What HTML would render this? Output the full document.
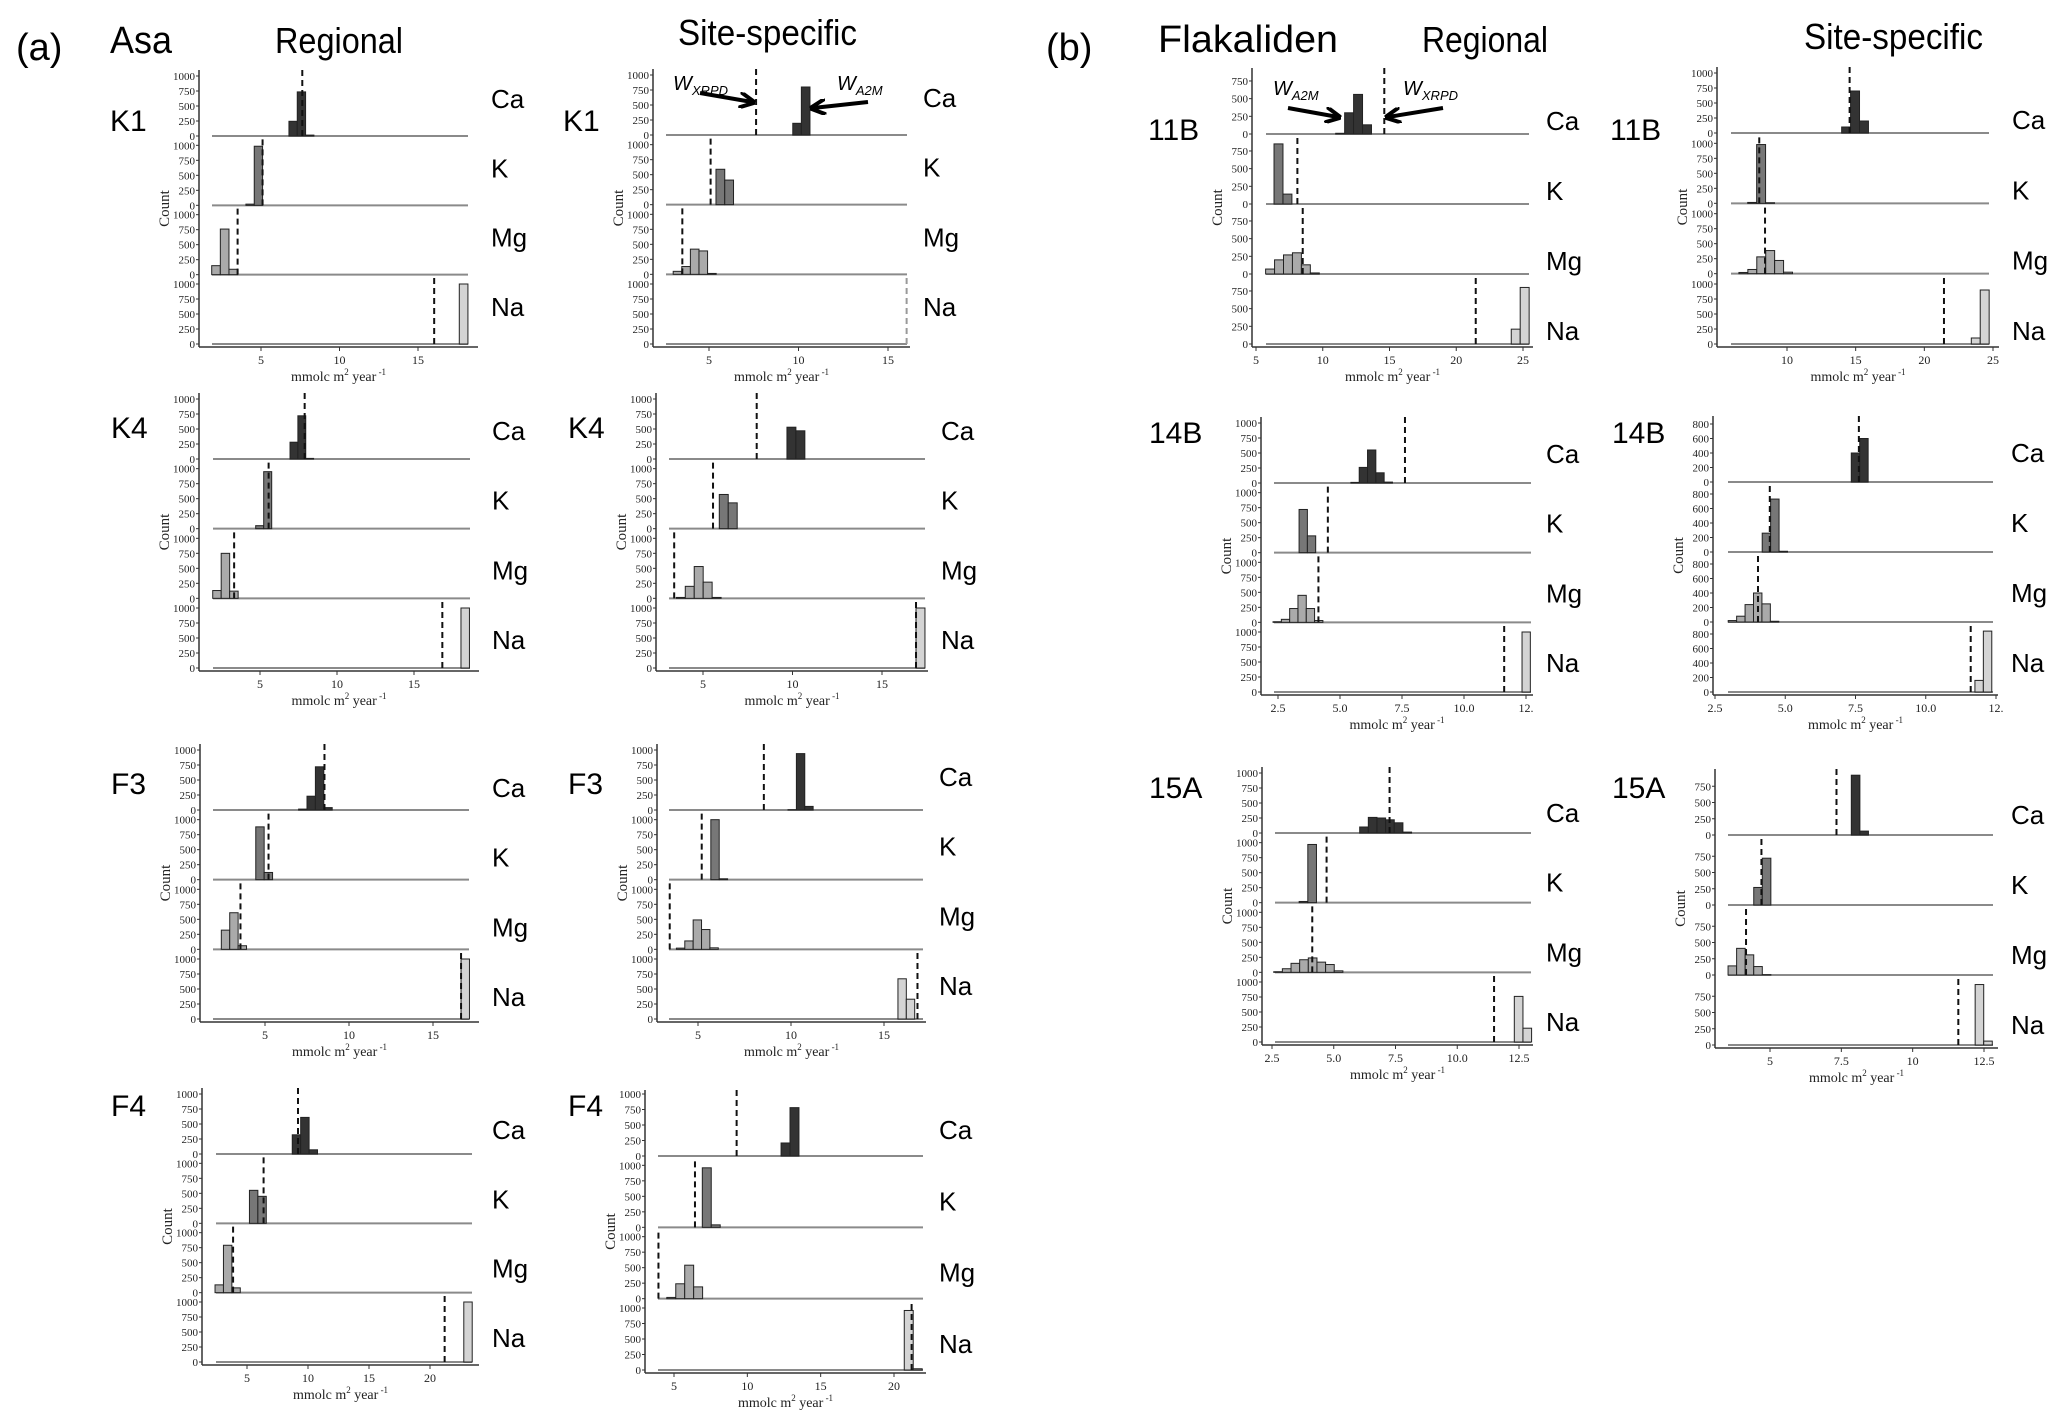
<!DOCTYPE html>
<html><head><meta charset="utf-8"><style>
html,body{margin:0;padding:0;background:#fff;}
svg{display:block;}
.h{font-family:"Liberation Sans",sans-serif;fill:#000;}
.s{font-family:"Liberation Serif",serif;fill:#222;}
</style></head><body>
<svg id="fig" width="2067" height="1423" viewBox="0 0 2067 1423" xmlns="http://www.w3.org/2000/svg">
<rect width="2067" height="1423" fill="#fff"/>
<text class="h" x="16" y="60" font-size="38">(a)</text>
<text class="h" x="110" y="53" font-size="38" textLength="62" lengthAdjust="spacingAndGlyphs">Asa</text>
<text class="h" x="275" y="53" font-size="36" textLength="128" lengthAdjust="spacingAndGlyphs">Regional</text>
<text class="h" x="678" y="45" font-size="36" textLength="179" lengthAdjust="spacingAndGlyphs">Site-specific</text>
<text class="h" x="1046" y="60" font-size="38">(b)</text>
<text class="h" x="1158" y="52" font-size="38" textLength="180" lengthAdjust="spacingAndGlyphs">Flakaliden</text>
<text class="h" x="1422" y="52" font-size="36" textLength="126" lengthAdjust="spacingAndGlyphs">Regional</text>
<text class="h" x="1804" y="49" font-size="36" textLength="179" lengthAdjust="spacingAndGlyphs">Site-specific</text>
<g id="plots"></g>
<g id="annot">
<defs><marker id="ah" viewBox="0 0 10 10" refX="8" refY="5" markerWidth="4" markerHeight="4" orient="auto"><path d="M0,0 L10,5 L0,10" fill="none" stroke="#000" stroke-width="2.5"/></marker></defs>
<text class="h" x="673" y="90" font-size="20" font-style="italic">W<tspan font-size="13" dy="5">XRPD</tspan></text>
<line x1="700" y1="93" x2="752" y2="102" stroke="#000" stroke-width="4" marker-end="url(#ah)"/>
<text class="h" x="837" y="90" font-size="20" font-style="italic">W<tspan font-size="13" dy="5">A2M</tspan></text>
<line x1="868" y1="102" x2="813" y2="108" stroke="#000" stroke-width="4" marker-end="url(#ah)"/>
<text class="h" x="1273" y="95" font-size="20" font-style="italic">W<tspan font-size="13" dy="5">A2M</tspan></text>
<line x1="1288" y1="108" x2="1338" y2="117" stroke="#000" stroke-width="4" marker-end="url(#ah)"/>
<text class="h" x="1403" y="95" font-size="20" font-style="italic">W<tspan font-size="13" dy="5">XRPD</tspan></text>
<line x1="1443" y1="108" x2="1388" y2="117" stroke="#000" stroke-width="4" marker-end="url(#ah)"/>
</g>
</svg>
<script>
// element order: Ca, K, Mg, Na
const elements = ["Ca","K","Mg","Na"];
// Asa K1
const asaK1Reg_start=[6.78,4.04,1.86,17.63]; const asaK1Reg_width=[0.53,0.53,0.55,0.55];
const asaK1Reg_counts=[[245,735,15],[20,985],[150,760,90],[1000]]; const asaK1Reg_dash=[7.63,5.1,3.51,16.03];
const asaK1Site_start=[9.68,5.39,3.0,17]; const asaK1Site_width=[0.48,0.49,0.48,0.48];
const asaK1Site_counts=[[195,800],[590,410],[50,130,420,390,15],[]]; const asaK1Site_dash=[7.63,5.09,3.51,16.04];
// Asa K4
const asaK4Reg_start=[6.95,4.72,1.93,18.05]; const asaK4Reg_width=[0.51,0.52,0.55,0.55];
const asaK4Reg_counts=[[280,720,10],[50,950],[130,750,120],[1000]]; const asaK4Reg_dash=[7.9,5.56,3.32,16.84];
const asaK4Site_start=[9.69,5.91,3.51,16.9]; const asaK4Site_width=[0.5,0.5,0.5,0.5];
const asaK4Site_counts=[[530,470],[570,430],[15,200,530,270,15],[1000]]; const asaK4Site_dash=[8.0,5.56,3.39,16.9];
// Asa F3
const asaF3Reg_start=[7.0,4.45,2.4,16.67]; const asaF3Reg_width=[0.5,0.5,0.5,0.5];
const asaF3Reg_counts=[[15,230,720,40],[880,120],[320,610,60],[1000]]; const asaF3Reg_dash=[8.54,5.21,3.54,16.67];
const asaF3Site_start=[9.84,5.69,3.84,15.75]; const asaF3Site_width=[0.45,0.45,0.45,0.45];
const asaF3Site_counts=[[5,940,60],[1000,15],[20,140,490,330,25],[670,330]]; const asaF3Site_dash=[8.54,5.2,3.48,16.8];
// Asa F4
const asaF4Reg_start=[8.71,5.2,2.38,22.77]; const asaF4Reg_width=[0.69,0.69,0.69,0.69];
const asaF4Reg_counts=[[320,610,70],[550,450],[130,790,80],[1000]]; const asaF4Reg_dash=[9.18,6.36,3.86,21.2];
const asaF4Site_start=[12.3,6.93,4.51,20.7]; const asaF4Site_width=[0.61,0.61,0.61,0.61];
const asaF4Site_counts=[[210,780],[960,40],[20,240,540,190],[960,20]]; const asaF4Site_dash=[9.27,6.43,3.94,21.2];
// Flakaliden 11B
const flk11BReg_start=[10.97,6.35,5.72,24.12]; const flk11BReg_width=[0.67,0.67,0.67,0.67];
const flk11BReg_counts=[[10,300,560,130],[850,140],[70,200,270,300,130,15],[210,800]]; const flk11BReg_dash=[14.61,8.1,8.5,21.46];
const flk11BSite_start=[13.98,7.14,6.5,23.42]; const flk11BSite_width=[0.65,0.65,0.65,0.65];
const flk11BSite_counts=[[100,700,200],[15,980,10],[20,70,280,385,220,25],[100,900]]; const flk11BSite_dash=[14.56,7.98,8.4,21.43];
// Flakaliden 14B
const flk14BReg_start=[5.44,3.35,2.3,12.34]; const flk14BReg_width=[0.335,0.335,0.335,0.335];
const flk14BReg_counts=[[10,260,550,170,15],[720,280],[10,50,230,450,230,30],[1000]]; const flk14BReg_dash=[7.62,4.51,4.13,11.62];
const flk14BSite_start=[7.35,4.18,2.97,11.75]; const flk14BSite_width=[0.3,0.3,0.3,0.3];
const flk14BSite_counts=[[400,600],[260,730,10],[20,80,240,400,250,10],[160,840]]; const flk14BSite_dash=[7.62,4.45,4.03,11.6];
// Flakaliden 15A
const flk15AReg_start=[6.05,3.6,2.57,12.31]; const flk15AReg_width=[0.35,0.35,0.35,0.35];
const flk15AReg_counts=[[100,260,250,220,170,15],[20,970],[10,60,150,210,240,170,130,25],[760,230]]; const flk15AReg_dash=[7.26,4.71,4.13,11.49];
const flk15ASite_start=[7.85,4.43,3.53,12.19]; const flk15ASite_width=[0.3,0.3,0.3,0.3];
const flk15ASite_counts=[[920,60],[270,720],[140,410,310,130,5],[930,60]]; const flk15ASite_dash=[7.33,4.7,4.16,11.6];

const asaXTicks=[5,10,15]; const asaF4XTicks=[5,10,15,20];
const flk11BRegXTicks=[5,10,15,20,25]; const flk11BSiteXTicks=[10,15,20,25];
const flkXTicks=[2.5,5.0,7.5,10.0,12.5]; const flkXTickLabels14B=["2.5","5.0","7.5","10.0","12."];
const flkXTickLabels15A=["2.5","5.0","7.5","10.0","12.5"]; const flk15ASiteXTicks=[5.0,7.5,10.0,12.5];
const yTicks1000=[0,250,500,750,1000]; const yTicks750=[0,250,500,750]; const yTicks800=[0,200,400,600,800];

const fills=["#333333","#777777","#aaaaaa","#d4d4d4"];
const NS="http://www.w3.org/2000/svg";
const root=document.getElementById("plots");
function mk(tag,attrs,parent){const e=document.createElementNS(NS,tag);for(const k in attrs)e.setAttribute(k,attrs[k]);(parent||root).appendChild(e);return e;}

const panels=[
 {id:"asa-k1-regional",row:"K1",rx:110,ry:131,ax:199,end:478,dl:212,dr:468,p1:[5,261],p2:[15,418],b0:136,Y:347,per:60,ldy:-28,xt:asaXTicks,xtl:null,yt:yTicks1000,S:asaK1Reg_start,W:asaK1Reg_width,C:asaK1Reg_counts,D:asaK1Reg_dash},
 {id:"asa-k1-site",row:"K1",rx:563,ry:131,ax:653,end:910,dl:666,dr:907,p1:[5,709],p2:[15,888],b0:135,Y:347,per:60,ldy:-28,xt:asaXTicks,xtl:null,yt:yTicks1000,S:asaK1Site_start,W:asaK1Site_width,C:asaK1Site_counts,D:asaK1Site_dash,naDashGray:true},
 {id:"asa-k4-regional",row:"K4",rx:111,ry:438,ax:199,end:479,dl:213,dr:470,p1:[5,260],p2:[15,414],b0:459,Y:671,per:60,ldy:-19,xt:asaXTicks,xtl:null,yt:yTicks1000,S:asaK4Reg_start,W:asaK4Reg_width,C:asaK4Reg_counts,D:asaK4Reg_dash},
 {id:"asa-k4-site",row:"K4",rx:568,ry:438,ax:656,end:928,dl:669,dr:925,p1:[5,703],p2:[15,882],b0:459,Y:671,per:60,ldy:-19,xt:asaXTicks,xtl:null,yt:yTicks1000,S:asaK4Site_start,W:asaK4Site_width,C:asaK4Site_counts,D:asaK4Site_dash},
 {id:"asa-f3-regional",row:"F3",rx:111,ry:794,ax:200,end:479,dl:213,dr:469,p1:[5,265],p2:[15,433],b0:810,Y:1022,per:60,ldy:-13,xt:asaXTicks,xtl:null,yt:yTicks1000,S:asaF3Reg_start,W:asaF3Reg_width,C:asaF3Reg_counts,D:asaF3Reg_dash},
 {id:"asa-f3-site",row:"F3",rx:568,ry:794,ax:657,end:926,dl:669,dr:923,p1:[5,698],p2:[15,884],b0:810,Y:1022,per:60,ldy:-24,xt:asaXTicks,xtl:null,yt:yTicks1000,S:asaF3Site_start,W:asaF3Site_width,C:asaF3Site_counts,D:asaF3Site_dash},
 {id:"asa-f4-regional",row:"F4",rx:111,ry:1116,ax:202,end:479,dl:216,dr:472,p1:[5,247],p2:[20,430],b0:1154,Y:1365,per:60,ldy:-15,xt:asaF4XTicks,xtl:null,yt:yTicks1000,S:asaF4Reg_start,W:asaF4Reg_width,C:asaF4Reg_counts,D:asaF4Reg_dash},
 {id:"asa-f4-site",row:"F4",rx:568,ry:1116,ax:645,end:926,dl:658,dr:923,p1:[5,674],p2:[20,894],b0:1156,Y:1373,per:62,ldy:-17,xt:asaF4XTicks,xtl:null,yt:yTicks1000,S:asaF4Site_start,W:asaF4Site_width,C:asaF4Site_counts,D:asaF4Site_dash},
 {id:"flak-11b-regional",row:"11B",rx:1148,ry:140,ax:1252,end:1533,dl:1266,dr:1529,p1:[5,1256],p2:[25,1523],b0:134,Y:347,per:70.7,ldy:-4,xt:flk11BRegXTicks,xtl:null,yt:yTicks750,S:flk11BReg_start,W:flk11BReg_width,C:flk11BReg_counts,D:flk11BReg_dash},
 {id:"flak-11b-site",row:"11B",rx:1610,ry:140,ax:1717,end:1999,dl:1731,dr:1989,p1:[10,1787],p2:[25,1993],b0:133,Y:347,per:60,ldy:-4,xt:flk11BSiteXTicks,xtl:null,yt:yTicks1000,S:flk11BSite_start,W:flk11BSite_width,C:flk11BSite_counts,D:flk11BSite_dash},
 {id:"flak-14b-regional",row:"14B",rx:1149,ry:443,ax:1261,end:1533,dl:1274,dr:1531,p1:[2.5,1278],p2:[12.5,1526],b0:483,Y:695,per:60,ldy:-20,xt:flkXTicks,xtl:flkXTickLabels14B,yt:yTicks1000,S:flk14BReg_start,W:flk14BReg_width,C:flk14BReg_counts,D:flk14BReg_dash},
 {id:"flak-14b-site",row:"14B",rx:1612,ry:443,ax:1713,end:1998,dl:1728,dr:1993,p1:[2.5,1715],p2:[12.5,1996],b0:482,Y:695,per:72.5,ldy:-20,xt:flkXTicks,xtl:flkXTickLabels14B,yt:yTicks800,S:flk14BSite_start,W:flk14BSite_width,C:flk14BSite_counts,D:flk14BSite_dash},
 {id:"flak-15a-regional",row:"15A",rx:1149,ry:798,ax:1262,end:1533,dl:1275,dr:1531,p1:[2.5,1272],p2:[12.5,1519],b0:833,Y:1045,per:60,ldy:-11,xt:flkXTicks,xtl:flkXTickLabels15A,yt:yTicks1000,S:flk15AReg_start,W:flk15AReg_width,C:flk15AReg_counts,D:flk15AReg_dash},
 {id:"flak-15a-site",row:"15A",rx:1612,ry:798,ax:1715,end:1998,dl:1728,dr:1993,p1:[5,1770],p2:[12.5,1984],b0:835,Y:1048,per:65,ldy:-11,xt:flk15ASiteXTicks,xtl:null,yt:yTicks750,S:flk15ASite_start,W:flk15ASite_width,C:flk15ASite_counts,D:flk15ASite_dash}
];

panels.forEach(p=>{
  const g=mk("g",{});
  
  
  const xs=v=>p.p1[1]+(v-p.p1[0])*(p.p2[1]-p.p1[1])/(p.p2[0]-p.p1[0]);
  const bl=p.Y-3;
  const base=i=>p.b0+i*(bl-p.b0)/3;
  const ys=(i,v)=>base(i)-v*p.per/1000;
  const rl=mk("text",{class:"h",x:p.rx,y:p.ry,"font-size":30},g); rl.textContent=p.row;
  
  
  const ya=mk("line",{x1:p.ax,y1:p.b0-66,x2:p.ax,y2:p.Y,stroke:"#333","stroke-width":1.5},g);
  
  
  const xa=mk("line",{x1:p.ax,y1:p.Y,x2:p.end,y2:p.Y,stroke:"#333","stroke-width":1.5},g);
  
  
  p.xt.forEach((v,k)=>{
    const x=xs(v);
    mk("line",{x1:x,y1:p.Y,x2:x,y2:p.Y+4,stroke:"#333","stroke-width":1},g);
    const t=mk("text",{class:"s",x:x,y:p.Y+17,"font-size":12,"text-anchor":"middle"},g);
    t.textContent=p.xtl?p.xtl[k]:String(v);
    
    
  });
  const xt=mk("text",{class:"s",x:(p.ax+p.end)/2,y:p.Y+34,"font-size":14,"text-anchor":"middle"},g);
  xt.innerHTML='mmolc m<tspan font-size="9" dy="-6">2</tspan><tspan dy="6"> year</tspan><tspan font-size="9" dy="-6"> -1</tspan>';
  
  
  const cy=(p.b0-66+p.Y)/2;
  const yt=mk("text",{class:"s",x:p.ax-30,y:cy,"font-size":15,"text-anchor":"middle",transform:`rotate(-90 ${p.ax-30} ${cy})`},g);
  yt.textContent="Count";
  
  
  elements.forEach((el,i)=>{
    const fg=mk("g",{},g);
    
    
    p.yt.forEach(v=>{
      const y=ys(i,v);
      mk("line",{x1:p.ax-3,y1:y,x2:p.ax,y2:y,stroke:"#333","stroke-width":1},fg);
      const t=mk("text",{class:"s",x:p.ax-4,y:y+4,"font-size":11,"text-anchor":"end"},fg);
      t.textContent=String(v);
      
      
    });
    const bline=mk("line",{x1:p.dl,y1:base(i),x2:p.dr,y2:base(i),stroke:"#8a8a8a","stroke-width":2},fg);
    
    
    const w=p.W[i];
    p.C[i].forEach((c,k)=>{
      const x0=xs(p.S[i]+k*w), x1=xs(p.S[i]+(k+1)*w);
      const r=mk("rect",{x:x0,y:ys(i,c),width:x1-x0,height:base(i)-ys(i,c),fill:fills[i],stroke:"#222","stroke-width":1},fg);
      
      
    });
    const dx=xs(p.D[i]);
    const d=mk("line",{x1:dx,y1:base(i)-66,x2:dx,y2:base(i)+4,stroke:(p.naDashGray&&i===3)?"#999":"#111","stroke-width":2,"stroke-dasharray":"6,4"},fg);
    
    
    const lb=mk("text",{class:"h",x:p.end+13,y:base(i)+p.ldy,"font-size":26},fg);
    lb.textContent=el;
    
    
  });
});
</script>
</body></html>
